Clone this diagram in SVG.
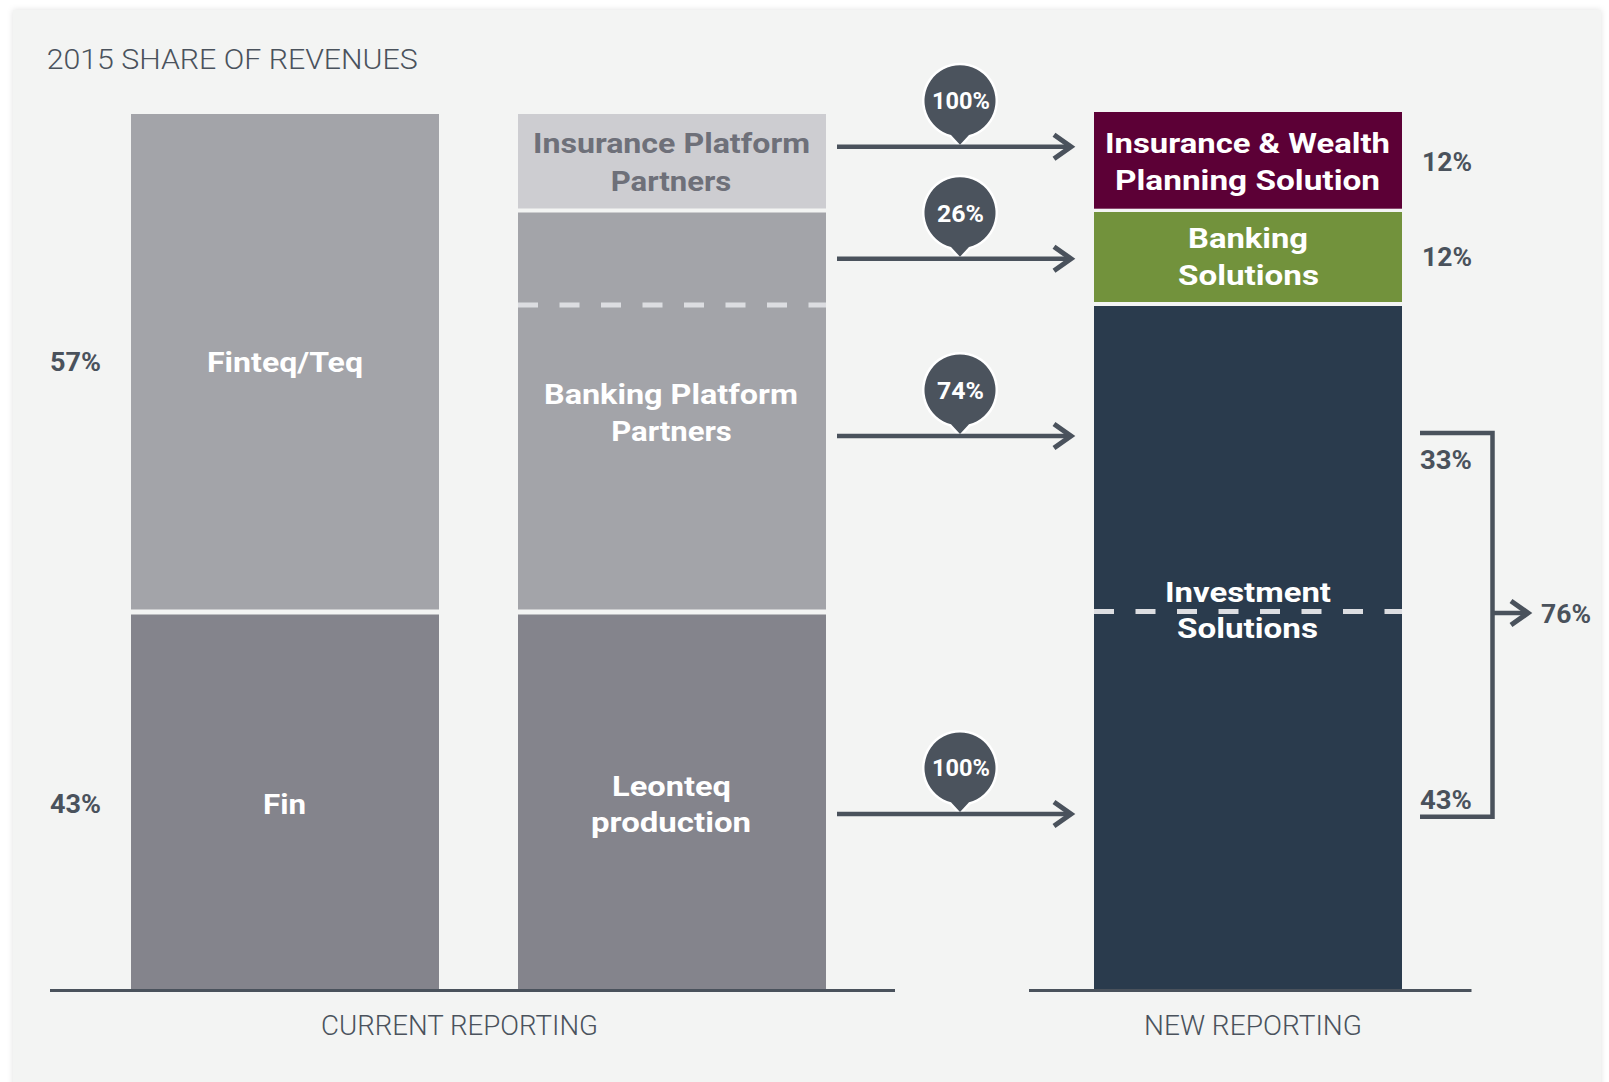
<svg xmlns="http://www.w3.org/2000/svg" width="1609" height="1082" viewBox="0 0 1609 1082">
<defs>
<style>
.lbl{font-family:Roboto,"Liberation Sans",sans-serif;font-weight:700;font-size:28px;fill:#ffffff;text-anchor:middle}
.lbl.dim{fill:#6e7079}
.pct{font-family:Roboto,"Liberation Sans",sans-serif;font-weight:700;font-size:25px;fill:#4a525c}
.bub{font-family:Roboto,"Liberation Sans",sans-serif;font-weight:700;font-size:23px;fill:#ffffff;text-anchor:middle}
.cap{font-family:Roboto,"Liberation Sans",sans-serif;font-weight:300;font-size:27px;fill:#4a525c}
.conn{stroke:#4a525c;stroke-width:4.5;fill:none}
.dash{stroke:#dcdde1;stroke-width:5;stroke-dasharray:20 21.5;fill:none}
.base{stroke:#4a525c;stroke-width:3;fill:none}
.bubble{fill:#4b535d;stroke:#ffffff;stroke-width:5;paint-order:stroke}
</style>
<marker id="chev" markerUnits="userSpaceOnUse" markerWidth="30" markerHeight="30" viewBox="-22 -15 30 30" refX="0" refY="0" orient="auto" overflow="visible">
<path d="M-17,-12 L0,0 L-17,12" fill="none" stroke="#4a525c" stroke-width="5"/>
</marker>
<filter id="sh" x="-5%" y="-5%" width="110%" height="110%">
<feDropShadow dx="0" dy="0" stdDeviation="3" flood-color="#000000" flood-opacity="0.12"/>
</filter>
<path id="bubpath" d="M-9,34.34 A35.5,35.5 0 1 1 9,34.34 L0,44 Z"/>
</defs>
<rect x="0" y="0" width="1609" height="1082" fill="#ffffff"/>
<rect x="13" y="10" width="1588" height="1090" fill="#f3f4f3" filter="url(#sh)"/>

<text class="cap" x="46.7" y="68.5" font-size="30" textLength="371" lengthAdjust="spacingAndGlyphs">2015 SHARE OF REVENUES</text>

<g id="bar-finteq">
<rect x="131" y="114" width="308" height="495.5" fill="#a3a4a9"/>
<text class="lbl" x="285" y="372" textLength="156" lengthAdjust="spacingAndGlyphs">Finteq/Teq</text>
</g>
<g id="bar-fin">
<rect x="131" y="614.5" width="308" height="375.5" fill="#84848c"/>
<text class="lbl" x="284.5" y="814" textLength="43" lengthAdjust="spacingAndGlyphs">Fin</text>
</g>
<g id="pct-left">
<text class="pct" x="50" y="371" textLength="51" lengthAdjust="spacingAndGlyphs">57%</text>
<text class="pct" x="50" y="813" textLength="51" lengthAdjust="spacingAndGlyphs">43%</text>
</g>

<g id="bar-insurance-platform">
<rect x="518" y="114" width="308" height="94.5" fill="#cdcdd1"/>
<text class="lbl dim" x="671.5" y="152.7" textLength="277" lengthAdjust="spacingAndGlyphs">Insurance Platform</text>
<text class="lbl dim" x="671" y="191" textLength="120.6" lengthAdjust="spacingAndGlyphs">Partners</text>
</g>
<g id="bar-banking-platform">
<rect x="518" y="212.5" width="308" height="397" fill="#a3a4a9"/>
<line class="dash" x1="518" y1="305" x2="826" y2="305"/>
<text class="lbl" x="671" y="404" textLength="254" lengthAdjust="spacingAndGlyphs">Banking Platform</text>
<text class="lbl" x="671.5" y="441" textLength="120.7" lengthAdjust="spacingAndGlyphs">Partners</text>
</g>
<g id="bar-leonteq">
<rect x="518" y="614.5" width="308" height="375.5" fill="#84848c"/>
<text class="lbl" x="671.5" y="796" textLength="119" lengthAdjust="spacingAndGlyphs">Leonteq</text>
<text class="lbl" x="671" y="832" textLength="160" lengthAdjust="spacingAndGlyphs">production</text>
</g>

<g id="bar-iwps">
<rect x="1094" y="112" width="308" height="96.7" fill="#5c0036"/>
<text class="lbl" x="1247.5" y="153.3" textLength="285" lengthAdjust="spacingAndGlyphs">Insurance &amp; Wealth</text>
<text class="lbl" x="1247.5" y="190" textLength="265" lengthAdjust="spacingAndGlyphs">Planning Solution</text>
</g>
<g id="bar-banking-solutions">
<rect x="1094" y="212" width="308" height="90" fill="#72923c"/>
<text class="lbl" x="1248" y="248.3" textLength="120" lengthAdjust="spacingAndGlyphs">Banking</text>
<text class="lbl" x="1248.5" y="285" textLength="141" lengthAdjust="spacingAndGlyphs">Solutions</text>
</g>
<g id="bar-investment">
<rect x="1094" y="306" width="308" height="684" fill="#2a3b4d"/>
<line class="dash" x1="1094" y1="611.5" x2="1402" y2="611.5"/>
<text class="lbl" x="1248" y="602" textLength="166" lengthAdjust="spacingAndGlyphs">Investment</text>
<text class="lbl" x="1247.5" y="638" textLength="141" lengthAdjust="spacingAndGlyphs">Solutions</text>
</g>
<g id="pct-right">
<text class="pct" x="1422" y="170.7" textLength="50" lengthAdjust="spacingAndGlyphs">12%</text>
<text class="pct" x="1422" y="265.7" textLength="50" lengthAdjust="spacingAndGlyphs">12%</text>
<text class="pct" x="1420" y="469" textLength="52" lengthAdjust="spacingAndGlyphs">33%</text>
<text class="pct" x="1420" y="809" textLength="52" lengthAdjust="spacingAndGlyphs">43%</text>
<text class="pct" x="1541" y="623" textLength="50" lengthAdjust="spacingAndGlyphs">76%</text>
</g>

<g id="bubbles">
<use href="#bubpath" class="bubble" transform="translate(960,100.7)"/>
<use href="#bubpath" class="bubble" transform="translate(960,212.7)"/>
<use href="#bubpath" class="bubble" transform="translate(960,390)"/>
<use href="#bubpath" class="bubble" transform="translate(960,768)"/>
</g>

<g id="connectors">
<line class="conn" x1="837" y1="146.7" x2="1071" y2="146.7" marker-end="url(#chev)"/>
<line class="conn" x1="837" y1="258.7" x2="1071" y2="258.7" marker-end="url(#chev)"/>
<line class="conn" x1="837" y1="436" x2="1071" y2="436" marker-end="url(#chev)"/>
<line class="conn" x1="837" y1="814" x2="1071" y2="814" marker-end="url(#chev)"/>
<path class="conn" d="M1420,433 H1492.5 V816.7 H1420"/>
<line class="conn" x1="1492.5" y1="613" x2="1528" y2="613" marker-end="url(#chev)"/>
</g>

<g id="bubble-labels">
<text class="bub" x="961" y="109" textLength="58" lengthAdjust="spacingAndGlyphs">100%</text>
<text class="bub" x="960.5" y="221.5" textLength="47" lengthAdjust="spacingAndGlyphs">26%</text>
<text class="bub" x="960.5" y="398.5" textLength="47" lengthAdjust="spacingAndGlyphs">74%</text>
<text class="bub" x="961" y="776" textLength="58" lengthAdjust="spacingAndGlyphs">100%</text>
</g>

<g id="axes">
<line class="base" x1="50" y1="990.5" x2="895" y2="990.5"/>
<line class="base" x1="1029" y1="990.5" x2="1471.5" y2="990.5"/>
<text class="cap" x="459.5" y="1035" text-anchor="middle" textLength="277" lengthAdjust="spacingAndGlyphs">CURRENT REPORTING</text>
<text class="cap" x="1253" y="1035" text-anchor="middle" textLength="218" lengthAdjust="spacingAndGlyphs">NEW REPORTING</text>
</g>
</svg>
